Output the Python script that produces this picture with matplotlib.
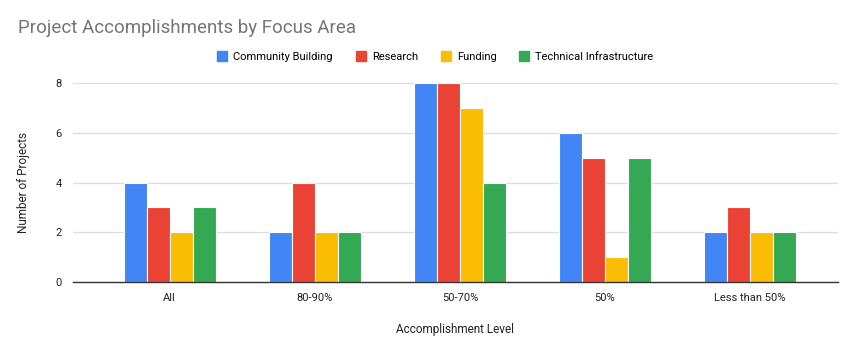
import matplotlib.pyplot as plt
import numpy as np

categories = ["All", "80-90%", "50-70%", "50%", "Less than 50%"]
community = [4, 2, 8, 6, 2]
research = [3, 4, 8, 5, 3]
funding = [2, 2, 7, 1, 2]
technical = [3, 2, 4, 5, 2]

series = [
    ("Community Building", community, "#4285F4"),
    ("Research", research, "#EA4335"),
    ("Funding", funding, "#FBBC04"),
    ("Technical Infrastructure", technical, "#34A853"),
]

plt.rcParams["font.family"] = ["Roboto", "DejaVu Sans"]

fig = plt.figure(figsize=(8.65, 3.49), dpi=100)
ax = fig.add_axes([0.084, 0.192, 0.885, 0.570])

x = np.arange(len(categories))
w = 0.158
for i, (name, vals, color) in enumerate(series):
    ax.bar(x + (i - 1.5) * w, vals, width=w, color=color, label=name,
           edgecolor="white", linewidth=0.8, zorder=2)

ax.set_xlim(-0.669, 4.607)
ax.set_ylim(0, 8)
ax.set_yticks([0, 2, 4, 6, 8])
ax.set_xticks(x)
ax.set_xticklabels(categories)
ax.tick_params(axis="both", length=0, labelsize=8, colors="#222222")
ax.tick_params(axis="y", pad=8)
ax.tick_params(axis="x", pad=8)
ax.grid(axis="y", color="#dddddd", linewidth=0.9, zorder=0)
for s in ("top", "right", "left"):
    ax.spines[s].set_visible(False)
ax.spines["bottom"].set_color("#333333")
ax.spines["bottom"].set_linewidth(1.0)
ax.spines["bottom"].set_zorder(3)

ax.set_xlabel("Accomplishment Level", fontsize=8.5, color="#222222", labelpad=14)
ax.set_ylabel("Number of Projects", fontsize=8.5, color="#222222", labelpad=18)

fig.text(0.021, 0.92, "Project Accomplishments by Focus Area", fontsize=13.5,
         color="#757575", va="center", ha="left")

handles = [plt.Line2D([0], [0], marker="s", linestyle="none", markersize=7,
                      markerfacecolor=c, markeredgecolor=c) for _, _, c in series]
fig.legend(handles, [n for n, _, _ in series], loc="center", ncol=4,
           bbox_to_anchor=(0.503, 0.837), frameon=False, fontsize=8,
           handletextpad=0.5, columnspacing=2.0, handlelength=1.0)

fig.savefig("out.png", dpi=100, facecolor="white")
